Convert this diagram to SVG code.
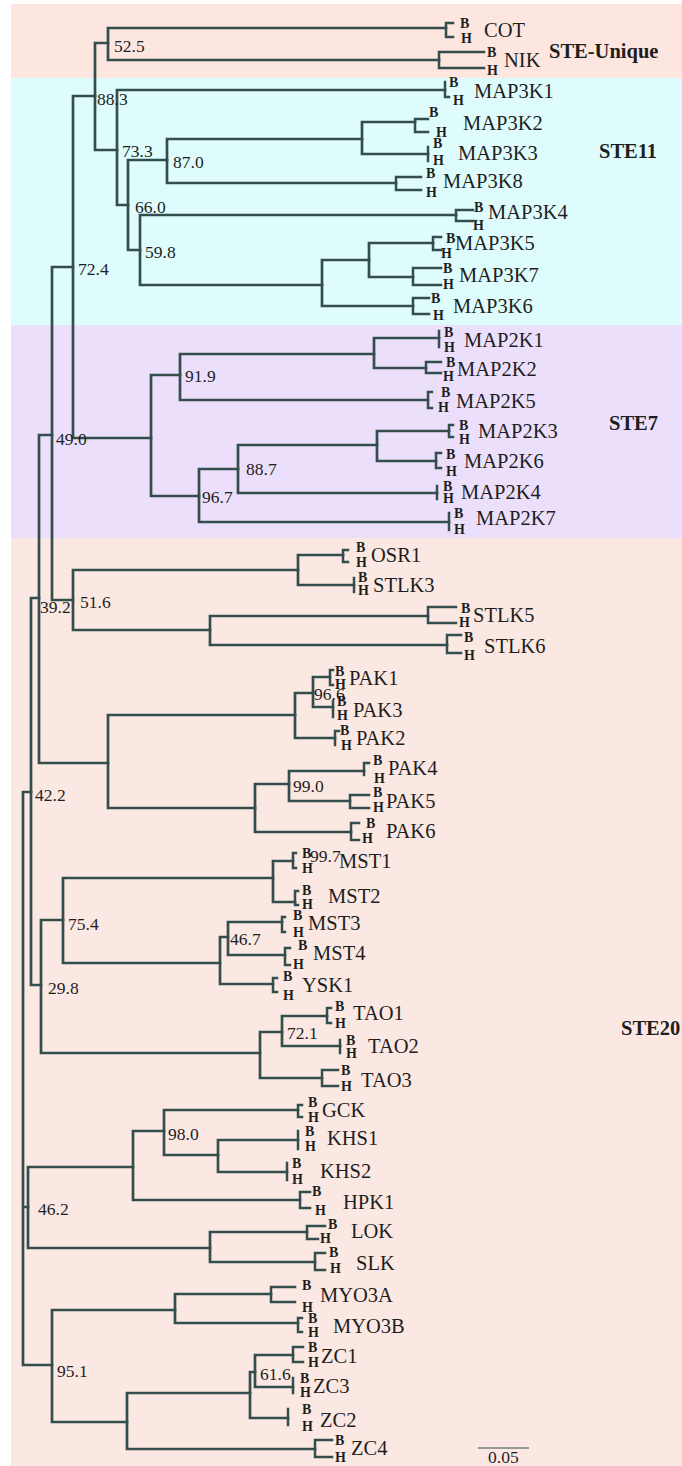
<svg xmlns="http://www.w3.org/2000/svg" width="682" height="1466" viewBox="0 0 682 1466">
<style>
.e{fill:none;stroke:#334e4c;stroke-width:2.7;stroke-linecap:square}
.k{fill:none;stroke:#334e4c;stroke-width:2.5;stroke-linecap:square}
text{font-family:"Liberation Serif","Times New Roman",serif;fill:#1e1e1e}
.lf{font-size:20.5px}
.bh{font-size:14px;font-weight:bold}
.bs{font-size:17.5px}
.cl{font-size:20.5px;font-weight:bold}
</style>
<rect x="0" y="0" width="682" height="1466" fill="#ffffff"/>
<g id="bands">
<rect x="11" y="4" width="671" height="74" fill="#fce6df"/>
<rect x="11" y="78" width="671" height="247" fill="#dffcfc"/>
<rect x="11" y="325" width="671" height="213" fill="#ecdffb"/>
<rect x="11" y="538" width="671" height="928" fill="#fce8e2"/>
</g>
<g id="connectors">
<path class="e" d="M23,792V1365M23,792H31M23,1207H28M23,1365H52"/>
<path class="e" d="M31,598V985M31,598H39M31,985H41"/>
<path class="e" d="M39,435V763M39,435H52M39,763H108"/>
<path class="e" d="M52,267V600M52,267H73M52,600H73"/>
<path class="e" d="M73,96V438M73,96H95M73,438H151"/>
<path class="e" d="M95,43V150M95,43H108M95,150H117"/>
<path class="e" d="M108,28V60M108,28H446M108,60H439"/>
<path class="e" d="M117,90V205M117,90H445M117,205H128"/>
<path class="e" d="M128,160V250M128,160H167M128,250H140"/>
<path class="e" d="M167,139V183M167,139H362M167,183H396"/>
<path class="e" d="M362,122V154M362,122H415M362,154H428"/>
<path class="e" d="M140,215V285M140,215H456M140,285H322"/>
<path class="e" d="M322,260V306M322,260H369M322,306H413"/>
<path class="e" d="M369,243V277M369,243H433M369,277H413"/>
<path class="e" d="M151,375V496M151,375H180M151,496H199"/>
<path class="e" d="M180,354V400M180,354H374M180,400H428"/>
<path class="e" d="M374,338V368M374,338H439M374,368H426"/>
<path class="e" d="M199,469V522M199,469H238M199,522H449"/>
<path class="e" d="M238,445V493M238,445H377M238,493H437"/>
<path class="e" d="M377,431V461M377,431H449M377,461H436"/>
<path class="e" d="M73,570V630M73,570H298M73,630H210"/>
<path class="e" d="M298,555V585M298,555H343M298,585H354"/>
<path class="e" d="M210,616V645M210,616H428M210,645H447"/>
<path class="e" d="M108,715V808M108,715H295M108,808H255"/>
<path class="e" d="M295,693V738M295,693H313M295,738H335"/>
<path class="e" d="M313,677V707M313,677H330M313,707H333"/>
<path class="e" d="M255,784V832M255,784H289M255,832H351"/>
<path class="e" d="M289,771V801M289,771H364M289,801H350"/>
<path class="e" d="M41,920V1053M41,920H63M41,1053H260"/>
<path class="e" d="M63,878V963M63,878H273M63,963H220"/>
<path class="e" d="M273,861V902M273,861H293M273,902H295"/>
<path class="e" d="M220,937V984M220,937H228M220,984H273"/>
<path class="e" d="M228,922V955M228,922H282M228,955H285"/>
<path class="e" d="M260,1032V1078M260,1032H282M260,1078H322"/>
<path class="e" d="M282,1016V1046M282,1016H327M282,1046H340"/>
<path class="e" d="M28,1167V1248M28,1167H133M28,1248H210"/>
<path class="e" d="M133,1131V1200M133,1131H164M133,1200H300"/>
<path class="e" d="M164,1110V1155M164,1110H298M164,1155H218"/>
<path class="e" d="M218,1140V1172M218,1140H298M218,1172H287"/>
<path class="e" d="M210,1232V1262M210,1232H307M210,1262H315"/>
<path class="e" d="M52,1310V1422M52,1310H175M52,1422H127"/>
<path class="e" d="M175,1294V1323M175,1294H271M175,1323H298"/>
<path class="e" d="M127,1393V1449M127,1393H250M127,1449H315"/>
<path class="e" d="M250,1372V1418M250,1372H255M250,1418H288"/>
<path class="e" d="M255,1355V1387M255,1355H293M255,1387H293"/>
</g>
<g id="bootstrap">
<text class="bs" x="114" y="52">52.5</text>
<text class="bs" x="97" y="105">88.3</text>
<text class="bs" x="122" y="157">73.3</text>
<text class="bs" x="173" y="168">87.0</text>
<text class="bs" x="135" y="213">66.0</text>
<text class="bs" x="145" y="258">59.8</text>
<text class="bs" x="78" y="275">72.4</text>
<text class="bs" x="185" y="382">91.9</text>
<text class="bs" x="56" y="445">49.0</text>
<text class="bs" x="246" y="475">88.7</text>
<text class="bs" x="202" y="503">96.7</text>
<text class="bs" x="40" y="613">39.2</text>
<text class="bs" x="80" y="608">51.6</text>
<text class="bs" x="314" y="700">96.6</text>
<text class="bs" x="35" y="801">42.2</text>
<text class="bs" x="293" y="792">99.0</text>
<text class="bs" x="310" y="862">99.7</text>
<text class="bs" x="68" y="930">75.4</text>
<text class="bs" x="230" y="945">46.7</text>
<text class="bs" x="48" y="994">29.8</text>
<text class="bs" x="287" y="1039">72.1</text>
<text class="bs" x="168" y="1140">98.0</text>
<text class="bs" x="38" y="1215">46.2</text>
<text class="bs" x="57" y="1377">95.1</text>
<text class="bs" x="260" y="1380">61.6</text>
</g>
<g id="leaf-COT"><path class="k" d="M446,23V37M446,23H453M446,37H453"/><text class="bh" x="460" y="28">B</text><text class="bh" x="461" y="43">H</text><text class="lf" x="484" y="37">COT</text></g>
<g id="leaf-NIK"><path class="k" d="M439,52V68M439,52H484M439,68H484"/><text class="bh" x="487" y="57">B</text><text class="bh" x="487" y="75">H</text><text class="lf" x="504" y="67">NIK</text></g>
<g id="leaf-MAP3K1"><path class="k" d="M445,82V97M445,97H449"/><text class="bh" x="449" y="87">B</text><text class="bh" x="453" y="105">H</text><text class="lf" x="474" y="98">MAP3K1</text></g>
<g id="leaf-MAP3K2"><path class="k" d="M415,119V132M415,119H428M415,132H428"/><text class="bh" x="429" y="117">B</text><text class="bh" x="436" y="137">H</text><text class="lf" x="463" y="130">MAP3K2</text></g>
<g id="leaf-MAP3K3"><path class="k" d="M428,147V161"/><text class="bh" x="433" y="148">B</text><text class="bh" x="433" y="165">H</text><text class="lf" x="458" y="160">MAP3K3</text></g>
<g id="leaf-MAP3K8"><path class="k" d="M396,177V190M396,177H421M396,190H421"/><text class="bh" x="426" y="178">B</text><text class="bh" x="426" y="197">H</text><text class="lf" x="443" y="188">MAP3K8</text></g>
<g id="leaf-MAP3K4"><path class="k" d="M456,210V221M456,210H473M456,221H473"/><text class="bh" x="474" y="212">B</text><text class="bh" x="473" y="230">H</text><text class="lf" x="488" y="219">MAP3K4</text></g>
<g id="leaf-MAP3K5"><path class="k" d="M433,237V250M433,237H441M433,250H441"/><text class="bh" x="446" y="243">B</text><text class="bh" x="441" y="258">H</text><text class="lf" x="455" y="250">MAP3K5</text></g>
<g id="leaf-MAP3K7"><path class="k" d="M413,268V285M413,268H441M413,285H441"/><text class="bh" x="443" y="273">B</text><text class="bh" x="443" y="289">H</text><text class="lf" x="459" y="282">MAP3K7</text></g>
<g id="leaf-MAP3K6"><path class="k" d="M413,298V314M413,298H429M413,314H429"/><text class="bh" x="431" y="303">B</text><text class="bh" x="433" y="320">H</text><text class="lf" x="453" y="313">MAP3K6</text></g>
<g id="leaf-MAP2K1"><path class="k" d="M439,331V347"/><text class="bh" x="444" y="337">B</text><text class="bh" x="444" y="352">H</text><text class="lf" x="464" y="347">MAP2K1</text></g>
<g id="leaf-MAP2K2"><path class="k" d="M426,362V373M426,362H441M426,373H441"/><text class="bh" x="446" y="367">B</text><text class="bh" x="443" y="381">H</text><text class="lf" x="457" y="376">MAP2K2</text></g>
<g id="leaf-MAP2K5"><path class="k" d="M428,392V408M428,392H432M428,408H432"/><text class="bh" x="441" y="397">B</text><text class="bh" x="438" y="412">H</text><text class="lf" x="456" y="408">MAP2K5</text></g>
<g id="leaf-MAP2K3"><path class="k" d="M449,425V437M449,425H453M449,437H453"/><text class="bh" x="459" y="430">B</text><text class="bh" x="459" y="444">H</text><text class="lf" x="478" y="438">MAP2K3</text></g>
<g id="leaf-MAP2K6"><path class="k" d="M436,453V468M436,453H441M436,468H441"/><text class="bh" x="446" y="459">B</text><text class="bh" x="446" y="476">H</text><text class="lf" x="464" y="468">MAP2K6</text></g>
<g id="leaf-MAP2K4"><path class="k" d="M437,486V499"/><text class="bh" x="443" y="491">B</text><text class="bh" x="443" y="503">H</text><text class="lf" x="461" y="499">MAP2K4</text></g>
<g id="leaf-MAP2K7"><path class="k" d="M449,513V530"/><text class="bh" x="454" y="518">B</text><text class="bh" x="454" y="534">H</text><text class="lf" x="476" y="525">MAP2K7</text></g>
<g id="leaf-OSR1"><path class="k" d="M343,550V562M343,550H348M343,562H348"/><text class="bh" x="356" y="552">B</text><text class="bh" x="356" y="567">H</text><text class="lf" x="371" y="562">OSR1</text></g>
<g id="leaf-STLK3"><path class="k" d="M354,578V592"/><text class="bh" x="358" y="582">B</text><text class="bh" x="358" y="595">H</text><text class="lf" x="373" y="592">STLK3</text></g>
<g id="leaf-STLK5"><path class="k" d="M428,607V623M428,607H456M428,623H456"/><text class="bh" x="461" y="613">B</text><text class="bh" x="459" y="627">H</text><text class="lf" x="473" y="622">STLK5</text></g>
<g id="leaf-STLK6"><path class="k" d="M447,635V653M447,635H461M447,653H461"/><text class="bh" x="464" y="642">B</text><text class="bh" x="464" y="660">H</text><text class="lf" x="484" y="653">STLK6</text></g>
<g id="leaf-PAK1"><path class="k" d="M330,670V685M330,670H333M330,685H333"/><text class="bh" x="335" y="676">B</text><text class="bh" x="335" y="689">H</text><text class="lf" x="349" y="685">PAK1</text></g>
<g id="leaf-PAK3"><path class="k" d="M333,701V717"/><text class="bh" x="337" y="706">B</text><text class="bh" x="337" y="720">H</text><text class="lf" x="353" y="717">PAK3</text></g>
<g id="leaf-PAK2"><path class="k" d="M335,731V745M335,731H339"/><text class="bh" x="340" y="735">B</text><text class="bh" x="341" y="750">H</text><text class="lf" x="356" y="745">PAK2</text></g>
<g id="leaf-PAK4"><path class="k" d="M364,763V775M364,763H369"/><text class="bh" x="373" y="765">B</text><text class="bh" x="374" y="783">H</text><text class="lf" x="388" y="775">PAK4</text></g>
<g id="leaf-PAK5"><path class="k" d="M350,795V808M350,795H369M350,808H369"/><text class="bh" x="373" y="797">B</text><text class="bh" x="373" y="812">H</text><text class="lf" x="386" y="808">PAK5</text></g>
<g id="leaf-PAK6"><path class="k" d="M351,823V840M351,823H359M351,840H359"/><text class="bh" x="366" y="828">B</text><text class="bh" x="362" y="843">H</text><text class="lf" x="386" y="838">PAK6</text></g>
<g id="leaf-MST1"><path class="k" d="M293,853V868M293,853H296M293,868H296"/><text class="bh" x="302" y="858">B</text><text class="bh" x="302" y="873">H</text><text class="lf" x="339" y="868">MST1</text></g>
<g id="leaf-MST2"><path class="k" d="M295,891V905M295,891H298M295,905H298"/><text class="bh" x="302" y="895">B</text><text class="bh" x="302" y="909">H</text><text class="lf" x="328" y="903">MST2</text></g>
<g id="leaf-MST3"><path class="k" d="M282,917V932M282,917H285M282,932H285"/><text class="bh" x="293" y="920">B</text><text class="bh" x="293" y="937">H</text><text class="lf" x="308" y="930">MST3</text></g>
<g id="leaf-MST4"><path class="k" d="M285,948V965M285,948H290M285,965H290"/><text class="bh" x="298" y="950">B</text><text class="bh" x="293" y="969">H</text><text class="lf" x="313" y="960">MST4</text></g>
<g id="leaf-YSK1"><path class="k" d="M273,978V992M273,978H277M273,992H277"/><text class="bh" x="283" y="981">B</text><text class="bh" x="283" y="1000">H</text><text class="lf" x="302" y="992">YSK1</text></g>
<g id="leaf-TAO1"><path class="k" d="M327,1008V1023M327,1008H331M327,1023H331"/><text class="bh" x="335" y="1011">B</text><text class="bh" x="335" y="1028">H</text><text class="lf" x="353" y="1020">TAO1</text></g>
<g id="leaf-TAO2"><path class="k" d="M340,1040V1053"/><text class="bh" x="346" y="1045">B</text><text class="bh" x="346" y="1058">H</text><text class="lf" x="368" y="1053">TAO2</text></g>
<g id="leaf-TAO3"><path class="k" d="M322,1070V1086M322,1070H338M322,1086H338"/><text class="bh" x="341" y="1075">B</text><text class="bh" x="341" y="1091">H</text><text class="lf" x="361" y="1087">TAO3</text></g>
<g id="leaf-GCK"><path class="k" d="M298,1105V1117M298,1105H302M298,1117H302"/><text class="bh" x="308" y="1107">B</text><text class="bh" x="308" y="1122">H</text><text class="lf" x="322" y="1117">GCK</text></g>
<g id="leaf-KHS1"><path class="k" d="M298,1131V1149"/><text class="bh" x="305" y="1136">B</text><text class="bh" x="305" y="1151">H</text><text class="lf" x="327" y="1145">KHS1</text></g>
<g id="leaf-KHS2"><path class="k" d="M287,1163V1180"/><text class="bh" x="292" y="1168">B</text><text class="bh" x="292" y="1184">H</text><text class="lf" x="320" y="1178">KHS2</text></g>
<g id="leaf-HPK1"><path class="k" d="M300,1192V1208M300,1192H310M300,1208H310"/><text class="bh" x="312" y="1196">B</text><text class="bh" x="315" y="1215">H</text><text class="lf" x="343" y="1209">HPK1</text></g>
<g id="leaf-LOK"><path class="k" d="M307,1226V1239M307,1226H325M307,1239H318"/><text class="bh" x="328" y="1229">B</text><text class="bh" x="320" y="1243">H</text><text class="lf" x="351" y="1238">LOK</text></g>
<g id="leaf-SLK"><path class="k" d="M315,1253V1270M315,1253H325M315,1270H325"/><text class="bh" x="329" y="1257">B</text><text class="bh" x="330" y="1273">H</text><text class="lf" x="356" y="1270">SLK</text></g>
<g id="leaf-MYO3A"><path class="k" d="M271,1287V1302M271,1287H295M271,1302H295"/><text class="bh" x="302" y="1290">B</text><text class="bh" x="302" y="1312">H</text><text class="lf" x="320" y="1302">MYO3A</text></g>
<g id="leaf-MYO3B"><path class="k" d="M298,1318V1332M298,1318H302M298,1332H302"/><text class="bh" x="308" y="1323">B</text><text class="bh" x="308" y="1337">H</text><text class="lf" x="333" y="1333">MYO3B</text></g>
<g id="leaf-ZC1"><path class="k" d="M293,1347V1362M293,1347H303M293,1362H303"/><text class="bh" x="308" y="1352">B</text><text class="bh" x="308" y="1367">H</text><text class="lf" x="321" y="1363">ZC1</text></g>
<g id="leaf-ZC3"><path class="k" d="M293,1378V1393"/><text class="bh" x="300" y="1383">B</text><text class="bh" x="300" y="1397">H</text><text class="lf" x="313" y="1393">ZC3</text></g>
<g id="leaf-ZC2"><path class="k" d="M288,1409V1425"/><text class="bh" x="302" y="1414">B</text><text class="bh" x="302" y="1431">H</text><text class="lf" x="320" y="1427">ZC2</text></g>
<g id="leaf-ZC4"><path class="k" d="M315,1440V1457M315,1440H332M315,1457H332"/><text class="bh" x="335" y="1445">B</text><text class="bh" x="335" y="1462">H</text><text class="lf" x="351" y="1455">ZC4</text></g>
<g id="clade-labels">
<text class="cl" x="549" y="58">STE-Unique</text>
<text class="cl" x="599" y="158">STE11</text>
<text class="cl" x="609" y="430">STE7</text>
<text class="cl" x="621" y="1035">STE20</text>
</g>
<g id="scale-bar">
<path d="M478,1448H529" stroke="#334e4c" stroke-width="1.2" fill="none"/>
<text class="bs" x="488" y="1463">0.05</text>
</g>
</svg>
